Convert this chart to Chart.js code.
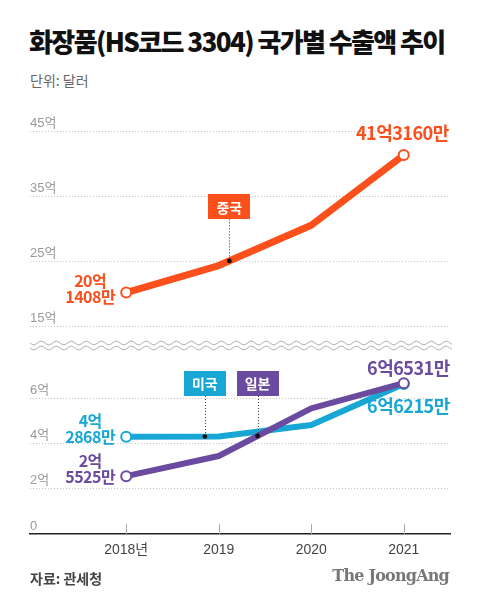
<!DOCTYPE html>
<html>
<head>
<meta charset="utf-8">
<script src="https://cdn.jsdelivr.net/npm/chart.js@4/dist/chart.umd.min.js"></script>
<style>
  body { margin:0; width:480px; height:606px; background:#fff; position:relative; overflow:hidden;
         font-family:"Noto Sans CJK KR", "Noto Sans", sans-serif; }
  .title { position:absolute; left:29px; top:22px; font-size:26px; font-weight:800; letter-spacing:-1.6px; color:#111; white-space:nowrap; }
  .unit { position:absolute; left:30px; top:70px; font-size:14px; color:#666; }
  .source { position:absolute; left:30px; top:568px; font-size:14px; font-weight:700; color:#444; }
  .brand { position:absolute; right:31px; top:566px; font-family:"DejaVu Serif","Liberation Serif",serif; font-weight:700; font-size:16px; letter-spacing:-0.8px; color:#777; }
  #top { position:absolute; left:0; top:100px; }
  #bottom { position:absolute; left:0; top:335px; }
</style>
</head>
<body>
<div class="title">화장품(HS코드 3304) 국가별 수출액 추이</div>
<div class="unit">단위: 달러</div>
<canvas id="top" width="480" height="240"></canvas>
<canvas id="bottom" width="480" height="240"></canvas>
<div class="source">자료: 관세청</div>
<div class="brand">The JoongAng</div>
<script>
// values in 억 달러
const years = [2018, 2019, 2020, 2021]
const yearLabels = ['2018년', '2019', '2020', '2021']
const china = [20.1408, 24.3, 30.5, 41.316]
const usa = [4.2868, 4.3, 4.81, 6.6215]
const japan = [2.5525, 3.44, 5.545, 6.6531]
const topTicks = [15, 25, 35, 45]
const bottomTicks = [0, 2, 4, 6]

const ORANGE = '#fb4f1c', CYAN = '#18a6d5', PURPLE = '#6a4b9f'
const KR = '"Noto Sans CJK KR", "Noto Sans", sans-serif'
const AX = '"Liberation Sans", "Noto Sans CJK KR", sans-serif'

function interp(series, v) {
  for (let i = 0; i < years.length - 1; i++) {
    if (v >= years[i] && v <= years[i + 1]) {
      const t = (v - years[i]) / (years[i + 1] - years[i])
      return series[i] + (series[i + 1] - series[i]) * t
    }
  }
  return series[series.length - 1]
}

const annot = {
  id: 'annot',
  beforeDraw(chart, args, opts) {
    if (!opts.waves) return
    const { ctx } = chart
    ctx.save()
    ctx.strokeStyle = '#a0a0a0'; ctx.lineWidth = 1
    opts.waves.forEach(wy => {
      ctx.beginPath()
      for (let px = 30; px <= 452; px += 0.5) {
        const py = wy + 1.8 * Math.sin((px - 30) / 15 * Math.PI * 2)
        px === 30 ? ctx.moveTo(px, py) : ctx.lineTo(px, py)
      }
      ctx.stroke()
    })
    ctx.restore()
  },
  afterDatasetsDraw(chart, args, opts) {
    const { ctx, chartArea, scales: { x, y } } = chart
    ctx.save()
    if (opts.tickMarks) {
      ctx.strokeStyle = '#aaa'; ctx.lineWidth = 1
      years.forEach(v => {
        const px = Math.round(x.getPixelForValue(v)) + 0.5
        ctx.beginPath(); ctx.moveTo(px, chartArea.bottom - 10); ctx.lineTo(px, chartArea.bottom); ctx.stroke()
      })
    }
    ;(opts.callouts || []).forEach(c => {
      const px = x.getPixelForValue(c.at)
      const py = y.getPixelForValue(interp(c.series, c.at))
      const by = y.getPixelForValue(c.boxBottom)
      ctx.setLineDash([1, 2]); ctx.strokeStyle = '#333'; ctx.lineWidth = 1
      ctx.beginPath(); ctx.moveTo(Math.round(px) + 0.5, by); ctx.lineTo(Math.round(px) + 0.5, py); ctx.stroke()
      ctx.setLineDash([])
      ctx.fillStyle = '#111'
      ctx.beginPath(); ctx.arc(px, py, 2.4, 0, Math.PI * 2); ctx.fill()
      ctx.fillStyle = c.color
      ctx.fillRect(Math.round(px - 21), Math.round(by - 25), 42, 25)
      ctx.fillStyle = '#fff'; ctx.font = 'bold 14px ' + KR
      ctx.textAlign = 'center'; ctx.textBaseline = 'middle'
      ctx.fillText(c.text, px, by - 12)
    })
    ;(opts.labels || []).forEach(l => {
      const px = x.getPixelForValue(years[l.index]) + l.dx
      const py = y.getPixelForValue(l.series[l.index])
      ctx.fillStyle = l.color; ctx.font = `bold ${l.size}px ` + KR
      ctx.letterSpacing = '-0.5px'
      ctx.textAlign = l.align; ctx.textBaseline = 'middle'
      l.lines.forEach((t, i) => ctx.fillText(t, px, py + l.dy[i]))
    })
    ctx.restore()
  }
}

function lineSet(data, color, width) {
  return {
    data: years.map((v, i) => ({ x: v, y: data[i] })),
    borderColor: color,
    borderWidth: width,
    borderJoinStyle: 'round',
    borderCapStyle: 'round',
    tension: 0,
    pointRadius: c => (c.dataIndex === 0 || c.dataIndex === years.length - 1) ? 5 : 0,
    pointBackgroundColor: '#fff',
    pointBorderColor: color,
    pointBorderWidth: 2
  }
}

function xScale(show) {
  return {
    type: 'linear', min: 2016.96, max: 2021.5, display: show,
    afterBuildTicks: s => { s.ticks = years.map(v => ({ value: v })) },
    afterFit: s => { s.paddingLeft = 0; s.paddingRight = 0 },
    grid: { display: false, drawTicks: false },
    border: { display: show, color: '#222', width: 1.5 },
    ticks: { padding: 8, color: '#444', font: { family: AX, size: 14 },
      callback: v => yearLabels[years.indexOf(v)] }
  }
}

function yScale(min, max, ticks) {
  return {
    min, max,
    afterBuildTicks: s => { s.ticks = ticks.map(v => ({ value: v })) },
    afterFit: s => { s.paddingTop = 0; s.paddingBottom = 0 },
    grid: { drawTicks: false, color: c => c.tick && c.tick.value === 0 ? 'rgba(0,0,0,0)' : '#c4c4c4',
      lineWidth: 1 },
    border: { display: false, dash: [1, 2] },
    ticks: { mirror: true, padding: 0, labelOffset: -8, color: '#999', font: { family: AX, size: 13 },
      callback: v => v === 0 ? '0' : v + '억' }
  }
}

const common = {
  responsive: false,
  animation: false,
  events: [],
  plugins: { legend: { display: false }, tooltip: { enabled: false } }
}

new Chart(document.getElementById('top'), {
  type: 'line',
  data: { datasets: [lineSet(china, ORANGE, 7)] },
  options: {
    ...common,
    layout: { padding: { left: 30, right: 30, top: 11.5, bottom: 7.5 } },
    scales: { x: xScale(false), y: yScale(14, 48, topTicks) },
    plugins: {
      ...common.plugins,
      annot: {
        callouts: [{ text: '중국', at: 2019.115, series: china, boxBottom: 31.4, color: ORANGE }],
        labels: [
          { series: china, index: 0, lines: ['20억', '1408만'], dx: -36, dy: [-12, 4], align: 'center', color: ORANGE, size: 16 },
          { series: china, index: 3, lines: ['41억3160만'], dx: 45, dy: [-22], align: 'right', color: ORANGE, size: 18 }
        ]
      }
    }
  },
  plugins: [annot]
})

new Chart(document.getElementById('bottom'), {
  type: 'line',
  data: { datasets: [lineSet(japan, PURPLE, 6), lineSet(usa, CYAN, 6)] },
  options: {
    ...common,
    layout: { padding: { left: 30, right: 30, top: 17.7, bottom: 8.2 } },
    scales: { x: xScale(true), y: yScale(0, 8, bottomTicks) },
    plugins: {
      ...common.plugins,
      annot: {
        waves: [8, 13],
        tickMarks: true,
        callouts: [
          { text: '미국', at: 2018.85, series: usa, boxBottom: 6.09, color: CYAN },
          { text: '일본', at: 2019.42, series: japan, boxBottom: 6.09, color: PURPLE }
        ],
        labels: [
          { series: usa, index: 0, lines: ['4억', '2868만'], dx: -36, dy: [-16, 0], align: 'center', color: CYAN, size: 16 },
          { series: japan, index: 0, lines: ['2억', '5525만'], dx: -36, dy: [-15, 1], align: 'center', color: PURPLE, size: 16 },
          { series: japan, index: 3, lines: ['6억6531만'], dx: 46, dy: [-15], align: 'right', color: PURPLE, size: 18 },
          { series: usa, index: 3, lines: ['6억6215만'], dx: 46, dy: [22], align: 'right', color: CYAN, size: 18 }
        ]
      }
    }
  },
  plugins: [annot]
})
</script>
</body>
</html>
